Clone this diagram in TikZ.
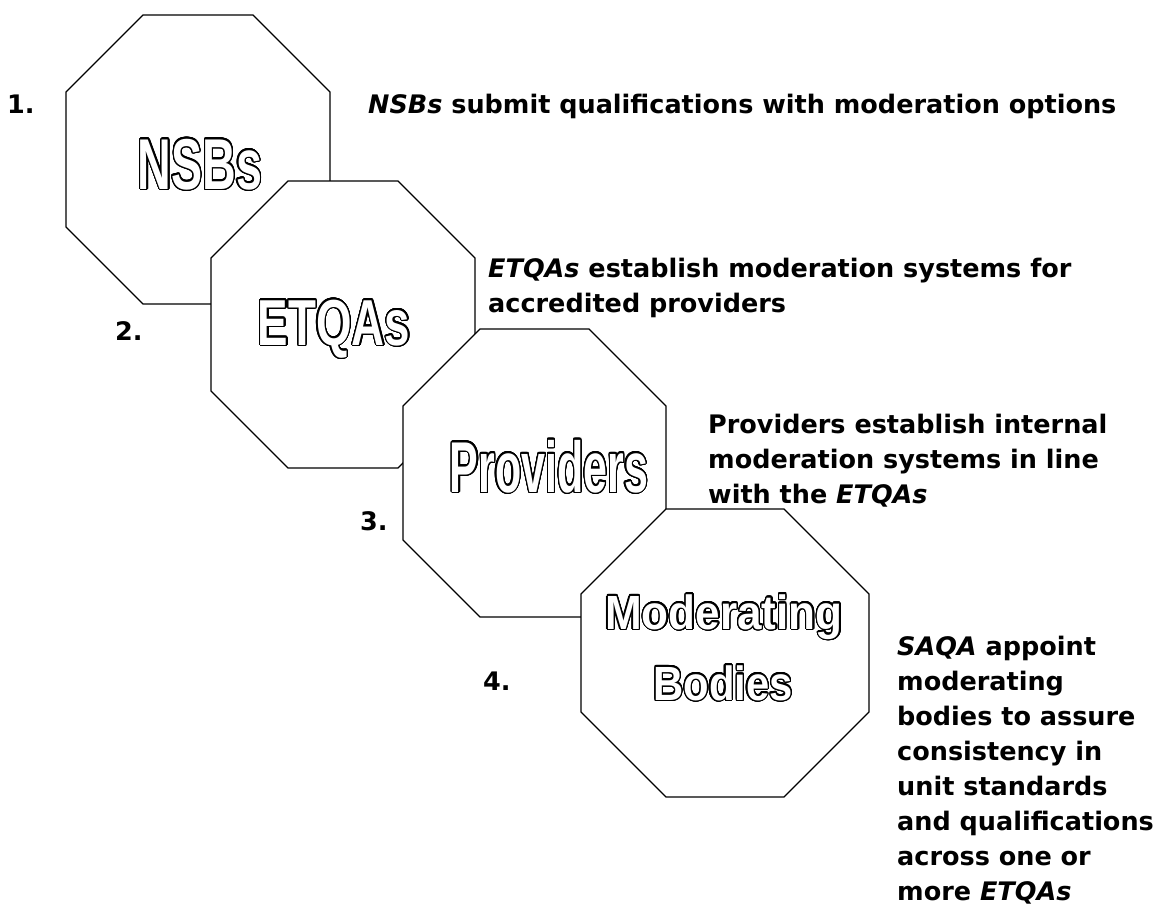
\documentclass[tikz,border=0pt]{standalone}
\usepackage{fontspec}
\setmainfont{DejaVu Sans}
\newfontfamily\wafont{Liberation Sans}
\usepackage{contour}
\contourlength{1.3pt}
\contournumber{32}
\newcommand\octpath[5]{(#1+#5,#2) -- (#3-#5,#2) -- (#3,#2+#5) -- (#3,#4-#5) -- (#3-#5,#4) -- (#1+#5,#4) -- (#1,#4-#5) -- (#1,#2+#5) -- cycle}
\newcommand\hollow[3]{{\wafont\bfseries\fontsize{#2}{#2}\selectfont\addfontfeature{FakeStretch=#1}\color{white}\contour{black}{#3}}}
\tikzset{
  oct/.style={draw=black, fill=white, line width=1.3pt, line join=miter},
  desc/.style={anchor=base west, align=left, inner sep=0pt, font=\bfseries\fontsize{25.5}{35}\selectfont},
  num/.style={anchor=base west, inner sep=0pt, font=\bfseries\fontsize{25.5}{35}\selectfont},
  wa/.style={anchor=base, inner sep=0pt}
}
\begin{document}
\begin{tikzpicture}[x=1pt,y=-1pt]
\useasboundingbox (0,0) rectangle (1161,903);
\fill[white] (0,0) rectangle (1161,903);
% octagons
\draw[oct] \octpath{66}{15}{330}{304}{77};
\node[wa] (nsbs) at (200,189) {\hollow{0.648}{72}{NSBs}};
\draw[oct] \octpath{211}{181}{475}{468}{77};
\node[wa] (etqas) at (334,345) {\hollow{0.703}{65}{ETQAs}};
\draw[oct] \octpath{403}{329}{666}{617}{77};
\node[wa] (prov) at (549,492) {\hollow{0.597}{72}{Providers}};
\draw[oct] \octpath{581}{509}{869}{797}{85};
\node[wa] (mod) at (724,629) {\hollow{0.918}{48}{Moderating}};
\node[wa] (bod) at (723,700) {\hollow{0.871}{48}{Bodies}};
% numbers
\node[num] (n1) at (7,113) {1.};
\node[num] (n2) at (115,340) {2.};
\node[num] (n3) at (360,530) {3.};
\node[num] (n4) at (483,690) {4.};
% descriptions (anchor = baseline of last line)
\node[desc] (d1) at (368,113) {\textit{NSBs} submit qualifications with moderation options};
\node[desc] (d2) at (488,312) {\textit{ETQAs} establish moderation systems for\\accredited providers};
\node[desc] (d3) at (708,503) {Providers establish internal\\moderation systems in line\\with the \textit{ETQAs}};
\node[desc] (d4) at (897,900) {\textit{SAQA} appoint\\moderating\\bodies to assure\\consistency in\\unit standards\\and qualifications\\across one or\\more \textit{ETQAs}};
\end{tikzpicture}
\end{document}
